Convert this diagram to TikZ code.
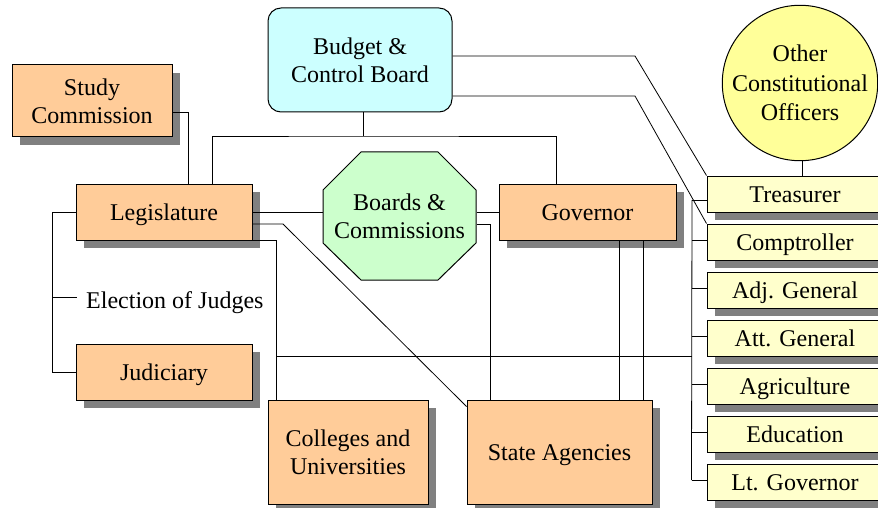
\documentclass[tikz,border=0pt]{standalone}
\usepackage{fontspec}
\setmainfont{Liberation Serif}
\usetikzlibrary{shadows,calc}
\definecolor{orangefill}{HTML}{FFCC99}
\definecolor{cyanfill}{HTML}{CCFFFF}
\definecolor{greenfill}{HTML}{CCFFCC}
\definecolor{circyellow}{HTML}{FFFF99}
\definecolor{lightyellow}{HTML}{FFFFCC}
\definecolor{shadowgray}{HTML}{808080}
\begin{document}
\begin{tikzpicture}[x=1pt,y=-1pt,
  base/.style={draw=black,line width=1pt,inner sep=0pt,align=center,font=\fontsize{24}{28}\selectfont},
  oneline/.style={text height=17pt,text depth=0pt},
  shad/.style={general shadow={fill=shadowgray,shadow xshift=8pt,shadow yshift=-8pt}},
  obox/.style={base,shad,fill=orangefill,rectangle},
  ybox/.style={base,shad,oneline,fill=lightyellow,rectangle,minimum width=176pt,minimum height=36pt},
  conn/.style={draw=black,line width=0.8pt}]
\useasboundingbox (0,0) rectangle (878,508);
\clip (0,0) rectangle (878,508);
\fill[white] (0,0) rectangle (878,508);

% nodes
\node[obox,minimum width=160pt,minimum height=72pt] (study) at (92,101) {Study\\Commission};
\node[obox,oneline,minimum width=176pt,minimum height=56pt] (legis) at (164,212) {Legislature};
\node[obox,oneline,minimum width=176pt,minimum height=56pt] (judic) at (164,372) {Judiciary};
\node[base,fill=cyanfill,rounded corners=13pt,minimum width=184pt,minimum height=104pt] (budget) at (360,60) {Budget \&\\Control Board};
\filldraw[fill=greenfill,draw=black,line width=1pt] (361,152) -- (438,152) -- (476,190) -- (476,243) -- (438,280) -- (361,280) -- (323,243) -- (323,190) -- cycle;
\node[base,draw=none,rectangle,minimum width=153pt,minimum height=128pt] (boards) at (399.5,216) {Boards \&\\Commissions};
\node[obox,oneline,minimum width=177pt,minimum height=56pt] (gov) at (587.5,212) {Governor};
\node[obox,minimum width=160pt,minimum height=104pt] (coll) at (348,452) {Colleges and\\Universities};
\node[obox,oneline,minimum width=185pt,minimum height=104pt] (agen) at (559.5,452) {State Agencies};
\node[base,circle,fill=circyellow,minimum size=151pt,font=\fontsize{24}{29.5}\selectfont] (other) at (800,83) {Other\\Constitutional\\Officers};
\node[ybox] (treas) at (795,194) {Treasurer};
\node[ybox] (comp) at (795,242) {Comptroller};
\node[ybox] (adj) at (795,290) {Adj. General};
\node[ybox] (att) at (795,338) {Att. General};
\node[ybox] (agri) at (795,386) {Agriculture};
\node[ybox] (edu) at (795,434) {Education};
\node[ybox] (lt) at (795,482) {Lt. Governor};
\node[font=\fontsize{24}{28}\selectfont,anchor=base west,inner sep=0pt] (elec) at (86,308) {Election of Judges};

% coordinates
\coordinate (bus1) at (363,136);
\coordinate (b1) at (635,56);
\coordinate (b2) at (635,96);
\coordinate (lb) at (52,212);
\coordinate (ej) at (77,297);
\coordinate (rb) at (692,200);
\coordinate (j1) at (276,356);
\coordinate (d1) at (283,224);

% connectors
\draw[conn] (study.east |- 0,112) -| ([xshift=24pt]legis.north);
\draw[conn] ([xshift=48pt]legis.north) |- (bus1) -| ([xshift=-31.5pt]gov.north);
\draw[conn] ([xshift=3pt]budget.south) -- (bus1);
\draw[conn] ([yshift=4pt]budget.east) -- (b1) -- (treas.north west);
\draw[conn] ([yshift=-36pt]budget.east) -- (b2) -- (comp.north west);
\draw[conn] ([xshift=2pt]other.south) -- ([xshift=2pt]other.south |- treas.north);
\draw[conn] (legis.east) -- (legis.east -| boards.west);
\draw[conn] (legis.east -| boards.east) -- (gov.west);
\draw[conn] ([yshift=-12pt]legis.east) -- (d1) -- ([yshift=-7pt]agen.north west);
\draw[conn] (legis.south east) -| ([xshift=-72pt]coll.north);
\draw[conn] ($(boards.east)+(0,8)$) -| ([xshift=-69.5pt]agen.north);
\draw[conn] ([xshift=31.5pt]gov.south) -- ([xshift=31.5pt]gov.south |- agen.north);
\draw[conn] ([xshift=55.5pt]gov.south) -- ([xshift=55.5pt]gov.south |- agen.north);
\draw[conn] (legis.west) -- (lb) |- (judic.west);
\draw[conn] (lb |- ej) -- (ej);
\draw[conn] (rb) -- (rb -| treas.west);
\draw[conn] (rb) -- ($(lt.west)+(-15,-2)$);
\foreach \n in {comp,adj,att,agri,edu,lt}
  \draw[conn] ($(\n.west)+(0,-2)$) -- ($(\n.west)+(-15,-2)$);
\draw[conn] (j1) -- (j1 -| rb);
\end{tikzpicture}
\end{document}
